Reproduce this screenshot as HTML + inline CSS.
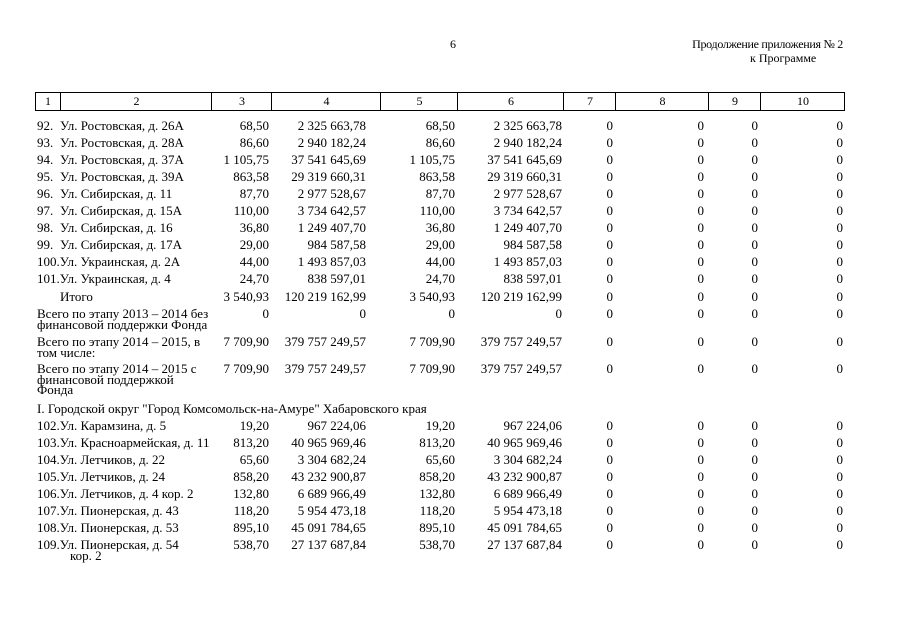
<!DOCTYPE html>
<html><head><meta charset="utf-8"><style>
body{margin:0;background:#fff;}
#p{position:relative;width:905px;height:640px;overflow:hidden;font-family:"Liberation Serif","DejaVu Serif",serif;font-size:13px;color:#000;line-height:10.5px;}
.r{position:absolute;left:0;width:905px;height:12px;}
.r span{position:absolute;top:0;white-space:nowrap;}
.n{left:37px}.t{left:60px}
.c3{right:636px}.c4{right:539px}.c5{right:450px}.c6{right:343px}.c7{right:292px}.c8{right:201px}.c9{right:147px}.c10{right:62px}
.hd{position:absolute;top:92px;left:35px;width:808px;height:17px;border:1px solid #000;font-size:12px;}
.hd div{position:absolute;top:0;height:17px;border-left:1px solid #000;text-align:center;line-height:17px;}
</style></head><body><div id="p">
<div style="position:absolute;left:450px;top:39px;font-size:12px">6</div>
<div style="position:absolute;right:62px;top:39px;font-size:12px;letter-spacing:-0.3px">Продолжение приложения № 2</div>
<div style="position:absolute;left:750px;top:53px;font-size:12px">к Программе</div>
<div class="hd">
<div style="left:0;width:24px;border-left:none">1</div>
<div style="left:24px;width:151px">2</div>
<div style="left:175px;width:60px">3</div>
<div style="left:235px;width:109px">4</div>
<div style="left:344px;width:77px">5</div>
<div style="left:421px;width:106px">6</div>
<div style="left:527px;width:52px">7</div>
<div style="left:579px;width:93px">8</div>
<div style="left:672px;width:52px">9</div>
<div style="left:724px;width:84px">10</div>
</div>
<div class="r" style="top:121px"><span class="n">92.</span><span class="t">Ул. Ростовская, д. 26А</span><span class="c3">68,50</span><span class="c4">2 325 663,78</span><span class="c5">68,50</span><span class="c6">2 325 663,78</span><span class="c7">0</span><span class="c8">0</span><span class="c9">0</span><span class="c10">0</span></div>
<div class="r" style="top:138px"><span class="n">93.</span><span class="t">Ул. Ростовская, д. 28А</span><span class="c3">86,60</span><span class="c4">2 940 182,24</span><span class="c5">86,60</span><span class="c6">2 940 182,24</span><span class="c7">0</span><span class="c8">0</span><span class="c9">0</span><span class="c10">0</span></div>
<div class="r" style="top:155px"><span class="n">94.</span><span class="t">Ул. Ростовская, д. 37А</span><span class="c3">1 105,75</span><span class="c4">37 541 645,69</span><span class="c5">1 105,75</span><span class="c6">37 541 645,69</span><span class="c7">0</span><span class="c8">0</span><span class="c9">0</span><span class="c10">0</span></div>
<div class="r" style="top:172px"><span class="n">95.</span><span class="t">Ул. Ростовская, д. 39А</span><span class="c3">863,58</span><span class="c4">29 319 660,31</span><span class="c5">863,58</span><span class="c6">29 319 660,31</span><span class="c7">0</span><span class="c8">0</span><span class="c9">0</span><span class="c10">0</span></div>
<div class="r" style="top:189px"><span class="n">96.</span><span class="t">Ул. Сибирская, д. 11</span><span class="c3">87,70</span><span class="c4">2 977 528,67</span><span class="c5">87,70</span><span class="c6">2 977 528,67</span><span class="c7">0</span><span class="c8">0</span><span class="c9">0</span><span class="c10">0</span></div>
<div class="r" style="top:206px"><span class="n">97.</span><span class="t">Ул. Сибирская, д. 15А</span><span class="c3">110,00</span><span class="c4">3 734 642,57</span><span class="c5">110,00</span><span class="c6">3 734 642,57</span><span class="c7">0</span><span class="c8">0</span><span class="c9">0</span><span class="c10">0</span></div>
<div class="r" style="top:223px"><span class="n">98.</span><span class="t">Ул. Сибирская, д. 16</span><span class="c3">36,80</span><span class="c4">1 249 407,70</span><span class="c5">36,80</span><span class="c6">1 249 407,70</span><span class="c7">0</span><span class="c8">0</span><span class="c9">0</span><span class="c10">0</span></div>
<div class="r" style="top:240px"><span class="n">99.</span><span class="t">Ул. Сибирская, д. 17А</span><span class="c3">29,00</span><span class="c4">984 587,58</span><span class="c5">29,00</span><span class="c6">984 587,58</span><span class="c7">0</span><span class="c8">0</span><span class="c9">0</span><span class="c10">0</span></div>
<div class="r" style="top:257px"><span class="n">100.Ул. Украинская, д. 2А</span><span class="c3">44,00</span><span class="c4">1 493 857,03</span><span class="c5">44,00</span><span class="c6">1 493 857,03</span><span class="c7">0</span><span class="c8">0</span><span class="c9">0</span><span class="c10">0</span></div>
<div class="r" style="top:274px"><span class="n">101.Ул. Украинская, д. 4</span><span class="c3">24,70</span><span class="c4">838 597,01</span><span class="c5">24,70</span><span class="c6">838 597,01</span><span class="c7">0</span><span class="c8">0</span><span class="c9">0</span><span class="c10">0</span></div>
<div class="r" style="top:292px"><span class="t">Итого</span><span class="c3">3 540,93</span><span class="c4">120 219 162,99</span><span class="c5">3 540,93</span><span class="c6">120 219 162,99</span><span class="c7">0</span><span class="c8">0</span><span class="c9">0</span><span class="c10">0</span></div>
<div class="r" style="top:309px"><span class="n">Всего по этапу 2013 – 2014 без<br>финансовой поддержки Фонда</span><span class="c3">0</span><span class="c4">0</span><span class="c5">0</span><span class="c6">0</span><span class="c7">0</span><span class="c8">0</span><span class="c9">0</span><span class="c10">0</span></div>
<div class="r" style="top:337px"><span class="n">Всего по этапу 2014 – 2015, в<br>том числе:</span><span class="c3">7 709,90</span><span class="c4">379 757 249,57</span><span class="c5">7 709,90</span><span class="c6">379 757 249,57</span><span class="c7">0</span><span class="c8">0</span><span class="c9">0</span><span class="c10">0</span></div>
<div class="r" style="top:364px"><span class="n">Всего по этапу 2014 – 2015 с<br>финансовой поддержкой<br>Фонда</span><span class="c3">7 709,90</span><span class="c4">379 757 249,57</span><span class="c5">7 709,90</span><span class="c6">379 757 249,57</span><span class="c7">0</span><span class="c8">0</span><span class="c9">0</span><span class="c10">0</span></div>
<div class="r" style="top:404px"><span class="n">I. Городской округ "Город Комсомольск-на-Амуре" Хабаровского края</span></div>
<div class="r" style="top:421px"><span class="n">102.Ул. Карамзина, д. 5</span><span class="c3">19,20</span><span class="c4">967 224,06</span><span class="c5">19,20</span><span class="c6">967 224,06</span><span class="c7">0</span><span class="c8">0</span><span class="c9">0</span><span class="c10">0</span></div>
<div class="r" style="top:438px"><span class="n">103.Ул. Красноармейская, д. 11</span><span class="c3">813,20</span><span class="c4">40 965 969,46</span><span class="c5">813,20</span><span class="c6">40 965 969,46</span><span class="c7">0</span><span class="c8">0</span><span class="c9">0</span><span class="c10">0</span></div>
<div class="r" style="top:455px"><span class="n">104.Ул. Летчиков, д. 22</span><span class="c3">65,60</span><span class="c4">3 304 682,24</span><span class="c5">65,60</span><span class="c6">3 304 682,24</span><span class="c7">0</span><span class="c8">0</span><span class="c9">0</span><span class="c10">0</span></div>
<div class="r" style="top:472px"><span class="n">105.Ул. Летчиков, д. 24</span><span class="c3">858,20</span><span class="c4">43 232 900,87</span><span class="c5">858,20</span><span class="c6">43 232 900,87</span><span class="c7">0</span><span class="c8">0</span><span class="c9">0</span><span class="c10">0</span></div>
<div class="r" style="top:489px"><span class="n">106.Ул. Летчиков, д. 4 кор. 2</span><span class="c3">132,80</span><span class="c4">6 689 966,49</span><span class="c5">132,80</span><span class="c6">6 689 966,49</span><span class="c7">0</span><span class="c8">0</span><span class="c9">0</span><span class="c10">0</span></div>
<div class="r" style="top:506px"><span class="n">107.Ул. Пионерская, д. 43</span><span class="c3">118,20</span><span class="c4">5 954 473,18</span><span class="c5">118,20</span><span class="c6">5 954 473,18</span><span class="c7">0</span><span class="c8">0</span><span class="c9">0</span><span class="c10">0</span></div>
<div class="r" style="top:523px"><span class="n">108.Ул. Пионерская, д. 53</span><span class="c3">895,10</span><span class="c4">45 091 784,65</span><span class="c5">895,10</span><span class="c6">45 091 784,65</span><span class="c7">0</span><span class="c8">0</span><span class="c9">0</span><span class="c10">0</span></div>
<div class="r" style="top:540px"><span class="n">109.Ул. Пионерская, д. 54</span><span style="left:70px;top:10.5px">кор. 2</span><span class="c3">538,70</span><span class="c4">27 137 687,84</span><span class="c5">538,70</span><span class="c6">27 137 687,84</span><span class="c7">0</span><span class="c8">0</span><span class="c9">0</span><span class="c10">0</span></div>
</div></body></html>
